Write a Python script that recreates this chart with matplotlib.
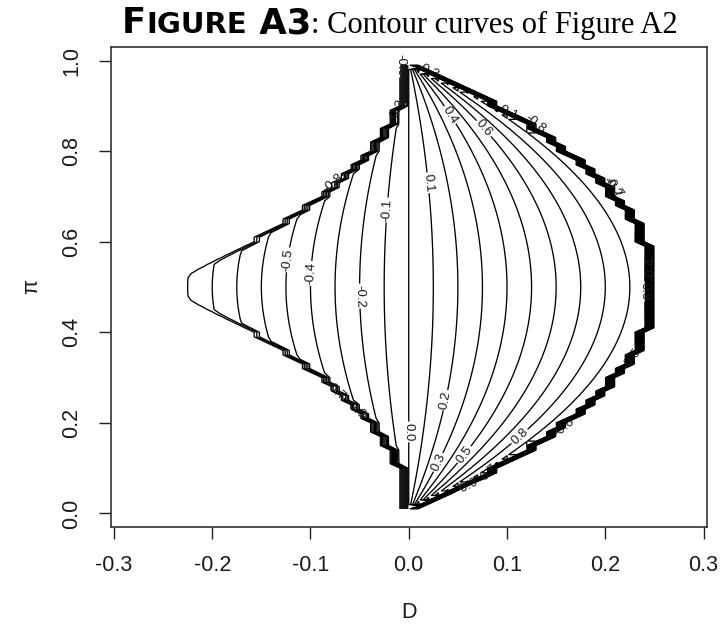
import numpy as np
import matplotlib.pyplot as plt

plt.rcParams['axes.unicode_minus'] = False
plt.rcParams['font.family'] = ['Liberation Sans', 'DejaVu Sans']
plt.rcParams['contour.negative_linestyle'] = 'solid'

# grid over the (D, pi) plane
d_values = np.round(np.arange(-0.30, 0.3001, 0.01), 2)
pi_values = np.round(np.arange(0.01, 0.9901, 0.01), 2)

# contour levels drawn and labelled
levels = [-0.9, -0.8, -0.7, -0.6, -0.5, -0.4, -0.3, -0.2, -0.1, 0.0,
          0.1, 0.2, 0.3, 0.4, 0.5, 0.6, 0.7, 0.8, 0.9]
outside_value = -1.0

x_ticks = [-0.3, -0.2, -0.1, 0.0, 0.1, 0.2, 0.3]
y_ticks = [0.0, 0.2, 0.4, 0.6, 0.8, 1.0]

# correlation of two binary traits sharing prevalence pi, r = D / (pi (1 - pi)),
# only where D keeps all four cell probabilities positive
D, P = np.meshgrid(d_values, pi_values)
pq = P * (1 - P)
lower = -np.minimum(P, 1 - P) ** 2
feasible = (D < pq - 1e-12) & (D > lower + 1e-12) | (D == 0)
Z = np.where(feasible, D / pq, outside_value)

W, H = 722, 624
fig = plt.figure(figsize=(W / 100, H / 100), dpi=100)
ax = fig.add_axes([111 / W, 1 - 526.7 / H, (706.5 - 111) / W, (526.7 - 47.3) / H])

cs = ax.contour(d_values, pi_values, Z, levels=levels, colors='black', linewidths=0.95)
ax.clabel(cs, fmt='%.1f', fontsize=9.5, inline=True, inline_spacing=2, colors='#1a1a1a')

ax.set_xlim(-0.303, 0.303)
ax.set_ylim(-0.0292, 1.0292)
ax.set_xticks(x_ticks)
ax.set_xticklabels([f'{v:.1f}' for v in x_ticks])
ax.set_yticks(y_ticks)
ax.set_yticklabels([f'{v:.1f}' for v in y_ticks], rotation=90, va='center')
ax.tick_params(direction='out', length=8.6, width=1.0, labelsize=15.5, pad=12,
               colors='#222222', labelcolor='#1a1a1a')
for s in ax.spines.values():
    s.set_linewidth(1.2)
    s.set_color('#333333')

fig.text((111 + 706.5) / 2 / W, 1 - 612 / H, 'D', ha='center', va='center',
         fontsize=15.5, color='#1a1a1a')
fig.text(32 / W, 1 - 287 / H, 'π', ha='center', va='center', rotation=90,
         fontsize=15.5, color='#1a1a1a')

# heading: heavy small-caps tag followed by a serif caption
fig.canvas.draw()
renderer = fig.canvas.get_renderer()
base_y = 1 - 33 / H


def place_row(pieces, x0_px, target_px=None):
    texts = []
    x = x0_px
    for s, size, kw in pieces:
        t = fig.text(x / W, base_y, s, fontsize=size, va='baseline', ha='left', **kw)
        x += t.get_window_extent(renderer).width
        texts.append(t)
    if target_px is None:
        return x
    scale = target_px / (x - x0_px)
    x = x0_px
    for t, (s, size, kw) in zip(texts, pieces):
        t.set_fontsize(size * scale)
        t.set_x(x / W)
        x += t.get_window_extent(renderer).width
    return x


heavy = dict(family=['DejaVu Sans'], weight='bold', color='black')
serif = dict(family=['Liberation Serif', 'DejaVu Serif'], color='black')
x_end = place_row([('F', 25.5, heavy), ('IGURE', 21.0, heavy), (' A3', 25.5, heavy)], 122)
place_row([(': Contour curves of Figure A2', 22.0, serif)], x_end, 678 - x_end)

fig.savefig('out.png', dpi=100)
